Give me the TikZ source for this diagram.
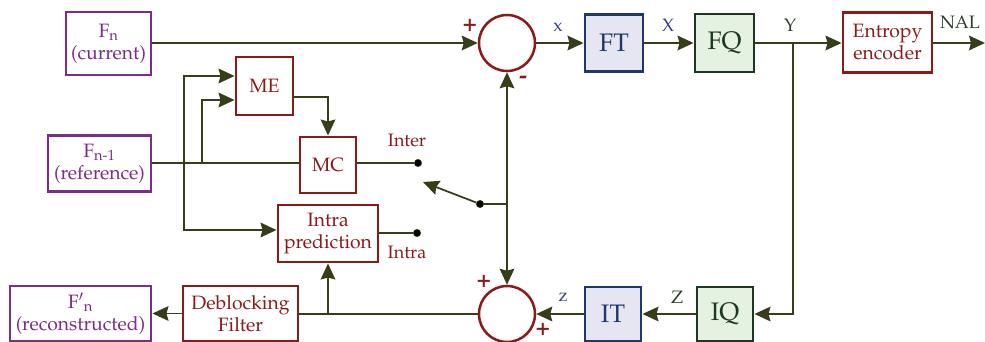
\documentclass[tikz,border=0pt]{standalone}
\usepackage[T1]{fontenc}
\usepackage{mathpazo}
\usetikzlibrary{arrows.meta,calc}
\definecolor{cpurple}{RGB}{123,45,138}
\definecolor{cred}{RGB}{139,26,26}
\definecolor{cline}{RGB}{55,60,25}
\definecolor{ftfill}{RGB}{230,230,243}
\definecolor{ftdraw}{RGB}{30,55,110}
\definecolor{fqfill}{RGB}{230,242,225}
\definecolor{fqdraw}{RGB}{30,55,35}
\definecolor{cblue}{RGB}{50,60,140}
\definecolor{cdark}{RGB}{45,60,45}
\tikzset{
  base/.style={rectangle, line width=2.2pt, inner sep=1pt, align=center, font=\fontsize{14.5}{16.5}\selectfont},
  pbox/.style={base, draw=cpurple, text=cpurple},
  rbox/.style={base, draw=cred, text=cred},
  tbox/.style={base, draw=ftdraw, fill=ftfill, text=ftdraw, font=\fontsize{19}{22}\selectfont},
  qbox/.style={base, draw=fqdraw, fill=fqfill, text=fqdraw, font=\fontsize{19}{22}\selectfont},
  adder/.style={circle, draw=cred, line width=1.9pt, minimum size=42pt, inner sep=0pt},
  conn/.style={draw=cline, line width=1.3pt},
  arr/.style={conn, -{Stealth[length=12pt,width=11pt,inset=1.5pt]}},
  dotn/.style={circle, fill=black, draw=cline, inner sep=0pt, minimum size=5.5pt},
  lbl/.style={font=\fontsize{13.5}{15}\selectfont, inner sep=0pt},
  sgn/.style={font=\fontsize{18}{18}\selectfont\bfseries, text=cred, inner sep=0pt}
}
\begin{document}
\begin{tikzpicture}[x=0.75pt,y=-0.75pt]
\useasboundingbox (0,0) rectangle (985,342);
% boxes
\node[pbox, minimum width=63.75pt, minimum height=47.25pt] (fn) at (108.5,43.5) {F\textsubscript{n}\\(current)};
\node[pbox, minimum width=77.25pt, minimum height=42pt] (fn1) at (99.5,163.5) {F\textsubscript{n-1}\\(reference)};
\node[pbox, minimum width=105.75pt, minimum height=41.25pt] (fpn) at (80.5,313.5) {F$'$\textsubscript{n}\\(reconstructed)};
\node[rbox, minimum width=42.75pt, minimum height=43.5pt] (me) at (264.5,86) {ME};
\node[rbox, minimum width=42pt, minimum height=42pt] (mc) at (328,165) {MC};
\node[rbox, minimum width=75pt, minimum height=42.75pt] (intra) at (328,233.5) {Intra\\prediction};
\node[rbox, minimum width=86.25pt, minimum height=41.25pt] (deb) at (240.5,313.5) {Deblocking\\Filter};
\node[adder] (add1) at (507,43) {};
\node[adder] (add2) at (507,314) {};
\node[tbox, minimum width=43.5pt, minimum height=42.75pt] (ft) at (614,43) {FT};
\node[qbox, minimum width=44.25pt, minimum height=43.5pt] (fq) at (724.5,43) {FQ};
\node[rbox, minimum width=66.75pt, minimum height=45pt] (ee) at (887.5,42.5) {Entropy\\encoder};
\node[tbox, minimum width=42pt, minimum height=40.5pt] (it) at (613,314) {IT};
\node[qbox, minimum width=42pt, minimum height=40.5pt] (iq) at (725,314) {IQ};
% dots
\node[dotn] (dinter) at (418,163) {};
\node[dotn] (dintra) at (417,233) {};
\node[dotn] (dsw) at (480,204) {};
\coordinate (swtip) at (423,182);
\coordinate (jn) at (507,204);
\coordinate (ybr) at (793,43);
\coordinate (nalend) at (985,43);
\coordinate (c1) at (202,163);
\coordinate (c2) at (184,163);
\coordinate (ipr) at (328,314);
% forward path
\draw[arr] (fn.east |- add1) -- (add1.west);
\draw[arr] (add1.east) -- (ft.west);
\draw[arr] (ft.east) -- (fq.west);
\draw[arr] (fq.east) -- (ee.west |- fq);
\draw[arr] (ee.east |- ybr) -- (nalend);
\draw[arr] (ybr) |- (iq.east);
\draw[arr] (iq.west) -- (it.east);
\draw[arr] (it.west) -- (add2.east);
\draw[conn] (add2.west) -- (deb.east |- add2);
\draw[arr] (ipr) -- (intra.south);
\draw[arr] (deb.west) -- (fpn.east);
% prediction
\draw[conn] (fn1.east |- c1) -- (mc.west |- c1);
\draw[arr] (c1) |- ($(me.west)+(0,14)$);
\draw[arr] (c2) |- ($(me.west)+(0,-10)$);
\draw[arr] (c2) |- ($(intra.west)+(0,-3.5)$);
\draw[arr] ($(me.east)+(0,11)$) -| (mc.north);
\draw[conn] (mc.east |- dinter) -- (dinter);
\draw[conn] (intra.east |- dintra) -- (dintra);
\draw[arr] (dsw) -- (swtip);
\draw[conn] (dsw) -- (jn);
\draw[arr] (jn) -- (add1.south);
\draw[arr] (jn) -- (add2.north);
% labels
\node[lbl, text=cred] at (407,140) {Inter};
\node[lbl, text=cred] at (407,252) {Intra};
\node[lbl, text=cblue] at (558,27) {x};
\node[lbl, text=cblue] at (668,25) {X};
\node[lbl, text=cdark] at (790,25) {Y};
\node[lbl, text=cdark] at (960,22) {NAL};
\node[lbl, text=cdark] at (677,297) {Z};
\node[lbl, text=cblue] at (563,298) {z};
\node[sgn] at (470,25) {+};
\node[sgn] at (523,80) {-};
\node[sgn] at (484,281) {+};
\node[sgn] at (543,329) {+};
\end{tikzpicture}
\end{document}
